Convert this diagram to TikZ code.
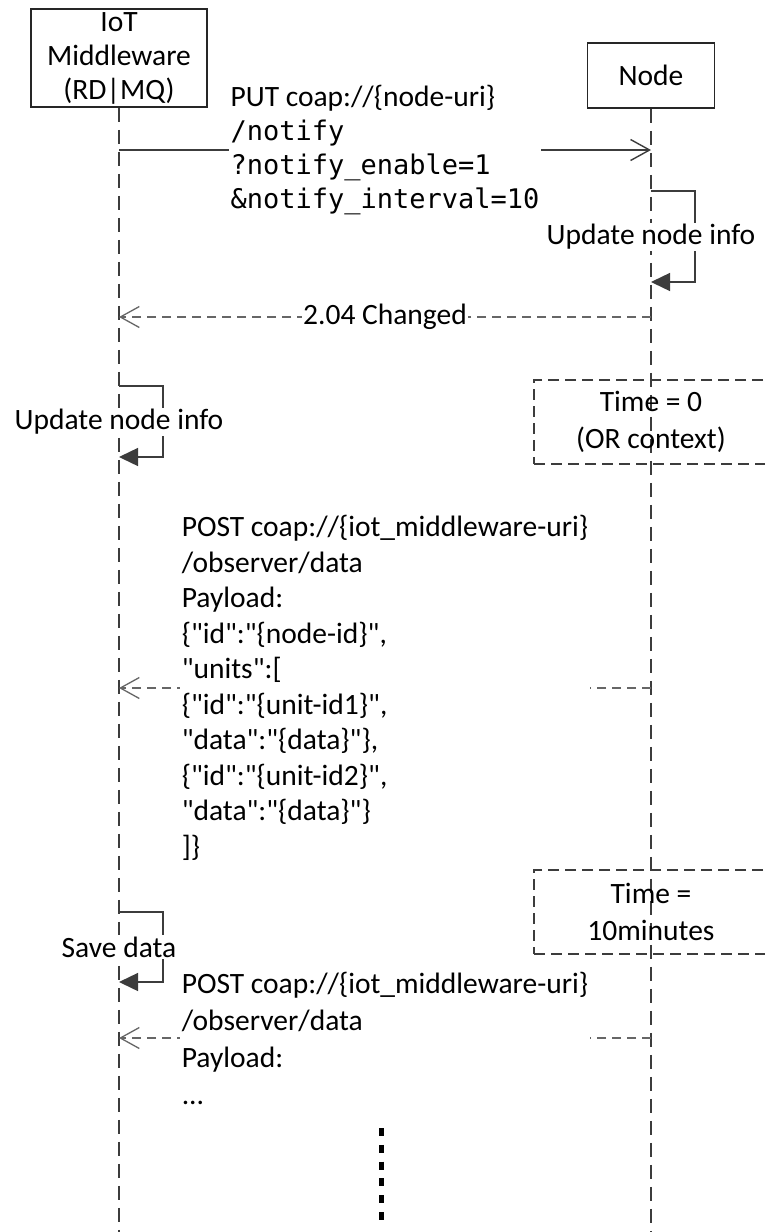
\documentclass[tikz,border=0pt]{standalone}
\usepackage{fontspec}
\setmainfont{Carlito}[Ligatures=TeXOff]
\newfontfamily\codefont{DejaVu Sans Mono}
\usetikzlibrary{arrows.meta}
\definecolor{BoxBlack}{HTML}{262626}
\definecolor{LineGray}{HTML}{3C3C3C}
\definecolor{ReplyGray}{HTML}{666666}
\newcommand\msgsize{\fontsize{29.5}{35.5}\selectfont}
\newcommand\codesize{\fontsize{27}{34.3}\selectfont}

\begin{document}
\begin{tikzpicture}[x=1pt,y=-1pt,
  actor/.style={draw=BoxBlack,line width=1.6pt,align=center,inner sep=0pt,font=\fontsize{29.5}{34}\selectfont},
  lifeline/.style={draw=LineGray,line width=1.7pt,dash pattern=on 14pt off 8pt},
  call/.style={draw=LineGray,line width=1.4pt,-{Straight Barb[length=19pt,width=21pt]}},
  reply/.style={draw=ReplyGray,line width=1.8pt,dash pattern=on 9pt off 6pt,-{Straight Barb[length=19pt,width=21pt,line width=1.3pt]}},
  selfcall/.style={draw=LineGray,line width=1.4pt,-{Triangle[length=19pt,width=18pt]}},
  msg/.style={fill=white,align=left,inner sep=1.5pt,font=\msgsize},
  timebox/.style={draw=LineGray,line width=1.7pt,dash pattern=on 11pt off 6pt,minimum width=234pt,minimum height=84pt,align=center,inner sep=0pt,font=\fontsize{29.5}{37}\selectfont}]
\clip (0,0) rectangle (765,1232);
\fill[white] (0,0) rectangle (765,1232);
\node[actor,minimum width=176pt,minimum height=98pt] (mw) at (119,58) {IoT\\Middleware\\(RD|MQ)};
\node[actor,minimum width=127pt,minimum height=65pt] (nd) at (651,75.5) {Node};
\coordinate (mwEnd) at (119,1232);
\coordinate (ndEnd) at (651,1232);
\draw[lifeline] (mw.south) -- (mwEnd);
\draw[lifeline] (nd.south) -- (ndEnd);
\node[timebox] (tZero) at (651,422) {Time = 0\\(OR context)};
\node[timebox] (tTen) at (651,912) {Time =\\10minutes};
\coordinate (putL) at (119,150);
\coordinate (putR) at (651,150);
\draw[call] (putL) -- node[msg,font=\codesize] (putLab)
  {{\msgsize PUT coap://\{node-uri\}}\\{\codefont /notify}\\{\codefont ?notify\_enable=1}\\{\codefont \&notify\_interval=10}} (putR);
\coordinate (updA) at (651,191);
\coordinate (updB) at (651,282);
\draw[selfcall] (updA) -- ++(44,0) |- (updB);
\node[msg] (updLab) at (651,237) {Update node info};
\coordinate (chgR) at (651,317);
\coordinate (chgL) at (119,317);
\draw[reply] (chgR) -- node[msg] (chgLab) {2.04 Changed} (chgL);
\coordinate (mwUpdA) at (119,386);
\coordinate (mwUpdB) at (119,457);
\draw[selfcall] (mwUpdA) -- ++(44,0) |- (mwUpdB);
\node[msg] (mwUpdLab) at (119,422) {Update node info};
\coordinate (obsOneR) at (651,688);
\coordinate (obsOneL) at (119,688);
\draw[reply] (obsOneR) -- node[msg] (obsOneLab)
  {POST coap://\{iot\_middleware-uri\}\\/observer/data\\Payload:\\\{"id":"\{node-id\}",\\"units":[\\\{"id":"\{unit-id1\}",\\"data":"\{data\}"\},\\\{"id":"\{unit-id2\}",\\"data":"\{data\}"\}\\]\}} (obsOneL);
\coordinate (saveA) at (119,912);
\coordinate (saveB) at (119,982);
\draw[selfcall] (saveA) -- ++(44,0) |- (saveB);
\node[msg] (saveLab) at (119,947) {Save data};
\coordinate (obsTwoR) at (651,1038);
\coordinate (obsTwoL) at (119,1038);
\draw[reply] (obsTwoR) -- node[msg,font=\fontsize{29.5}{37}\selectfont] (obsTwoLab)
  {POST coap://\{iot\_middleware-uri\}\\/observer/data\\Payload:\\...} (obsTwoL);
\coordinate (dotsTop) at (381,1128);
\coordinate (dotsBot) at (381,1221);
\draw[line width=5pt,dash pattern=on 8pt off 8.8pt] (dotsTop) -- (dotsBot);
\end{tikzpicture}
\end{document}
